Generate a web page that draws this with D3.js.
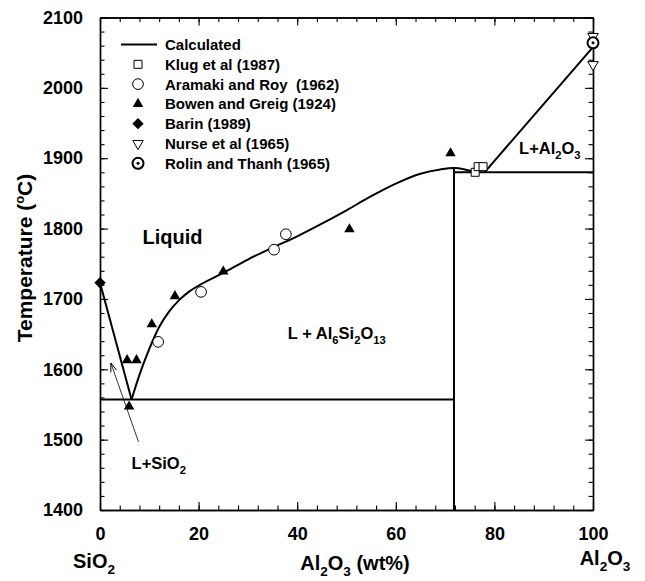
<!DOCTYPE html>
<html>
<head>
<meta charset="utf-8">
<script src="https://cdn.jsdelivr.net/npm/d3@7"></script>
<style>
  body { margin: 0; background: #fff; }
  svg { display: block; font-family: "Liberation Sans", Arial, sans-serif; font-weight: bold; }
  text { white-space: pre; }
</style>
</head>
<body>
<svg></svg>
<script>
// SiO2 - Al2O3 phase diagram
const width = 645;
const height = 581;

// calculated lines, [wt% Al2O3, temperature]
const silicaLiquidus = [[0, 1723], [6.4, 1557]];
const mulliteLiquidus = [
  [6.4, 1557], [8, 1592], [10, 1629], [12, 1660], [14, 1682], [16, 1698],
  [18, 1710], [20, 1719], [25, 1737], [30, 1756], [35, 1773], [40, 1789],
  [45, 1807], [50, 1826], [55, 1846], [60, 1864], [65, 1878], [69, 1884],
  [71.8, 1886], [74, 1884], [76, 1880]
];
const aluminaLiquidus = [[78, 1880], [100, 2058]];
const eutecticLine = [[0, 1557], [71.8, 1557]];
const peritecticLine = [[71.8, 1880], [100, 1880]];
const mulliteLine = [[71.8, 1400], [71.8, 1886]];

// experimental points
const klug = [[76.1, 1880], [76.7, 1888], [77.7, 1888]];
const aramaki = [[11.8, 1639], [20.5, 1710], [35.3, 1770], [37.7, 1792]];
const bowen = [[5.5, 1613], [7.4, 1613], [5.9, 1547], [10.5, 1664], [15.2, 1704], [25, 1739], [50.6, 1799], [71.1, 1907]];
const barin = [[0, 1723]];
const nurse = [[100, 2073], [100, 2033]];
const rolin = [[100, 2064]];

const xTicks = [0, 20, 40, 60, 80, 100];
const yTicks = [1400, 1500, 1600, 1700, 1800, 1900, 2000, 2100];
const legendNames = ["Calculated", "Klug et al (1987)", "Aramaki and Roy  (1962)", "Bowen and Greig (1924)",
  "Barin (1989)", "Nurse et al (1965)", "Rolin and Thanh (1965)"];

const svg = d3.select("svg")
  .attr("width", width)
  .attr("height", height)
  .attr("viewBox", `0 0 ${width} ${height}`);

const x = d3.scaleLinear().domain([0, 100]).range([100, 593]);
const y = d3.scaleLinear().domain([1400, 2100]).range([510, 17.5]);

// frame + ticks (all pointing inward)
function addAxis(axisFn, scale, vals, len, tx, ty, labels) {
  const g = svg.append("g")
    .attr("transform", `translate(${tx},${ty})`)
    .call(axisFn(scale).tickValues(vals).tickSizeInner(-len).tickSizeOuter(0)
      .tickPadding(len + 9).tickFormat(labels ? d3.format("d") : ""));
  g.select(".domain").attr("stroke-width", 1.4);
  g.selectAll(".tick line").attr("stroke-width", 1.1);
  g.selectAll("text").attr("font-size", 18).attr("font-weight", "bold")
    .attr("font-family", "Liberation Sans, Arial, sans-serif").attr("fill", "#000");
  return g;
}
const xMinor = d3.range(0, 101, 4);
const yMinor = d3.range(1400, 2101, 20);
addAxis(d3.axisBottom, x, xMinor, 4.5, 0, 510, false);
addAxis(d3.axisBottom, x, xTicks, 8, 0, 510, true);
addAxis(d3.axisTop, x, xMinor, 4.5, 0, 17.5, false);
addAxis(d3.axisTop, x, xTicks, 8, 0, 17.5, false);
addAxis(d3.axisLeft, y, yMinor, 4.5, 100, 0, false);
addAxis(d3.axisLeft, y, yTicks, 8, 100, 0, true);
addAxis(d3.axisRight, y, yMinor, 4.5, 593, 0, false);
addAxis(d3.axisRight, y, yTicks, 8, 593, 0, false);

// calculated lines
const line = d3.line().x(d => x(d[0])).y(d => y(d[1]));
const curve = d3.line().x(d => x(d[0])).y(d => y(d[1])).curve(d3.curveMonotoneX);
const lines = svg.append("g").attr("fill", "none").attr("stroke", "#000").attr("stroke-width", 2);
[silicaLiquidus, aluminaLiquidus, eutecticLine, peritecticLine, mulliteLine].forEach(d => {
  lines.append("path").attr("d", line(d));
});
lines.append("path").attr("d", curve(mulliteLiquidus));

// marker drawing
const sym = (type, size) => d3.symbol().type(type).size(size)();
const markers = {
  klug: g => g.append("path").attr("d", sym(d3.symbolSquare, 64)).attr("fill", "#fff").attr("stroke", "#000").attr("stroke-width", 1),
  aramaki: g => g.append("path").attr("d", sym(d3.symbolCircle, 90)).attr("fill", "#fff").attr("stroke", "#000").attr("stroke-width", 1),
  bowen: g => g.append("path").attr("d", sym(d3.symbolTriangle, 48)).attr("fill", "#000"),
  barin: g => g.append("path").attr("d", sym(d3.symbolSquare, 64)).attr("transform", "rotate(45)").attr("fill", "#000"),
  nurse: g => g.append("path").attr("d", sym(d3.symbolTriangle, 48)).attr("transform", "rotate(180)").attr("fill", "#fff").attr("stroke", "#000").attr("stroke-width", 1),
  rolin: g => {
    g.append("circle").attr("r", 5.5).attr("fill", "#fff").attr("stroke", "#000").attr("stroke-width", 2);
    g.append("circle").attr("r", 1.5).attr("fill", "#000");
  }
};
const series = [["nurse", nurse], ["rolin", rolin], ["aramaki", aramaki], ["bowen", bowen], ["barin", barin], ["klug", klug]];
series.forEach(([key, data]) => {
  svg.append("g").selectAll("g").data(data).join("g")
    .attr("transform", d => `translate(${x(d[0])},${y(d[1])})`)
    .each(function () { markers[key](d3.select(this)); });
});

// legend
const legend = svg.append("g");
const legendKeys = [null, "klug", "aramaki", "bowen", "barin", "nurse", "rolin"];
legendNames.forEach((name, i) => {
  const ly = 44.5 + i * 19.8;
  const row = legend.append("g").attr("transform", `translate(0,${ly})`);
  if (legendKeys[i] === null) {
    row.append("line").attr("x1", 121).attr("x2", 157).attr("stroke", "#000").attr("stroke-width", 2);
  } else {
    const g = row.append("g").attr("transform", "translate(138,0)");
    markers[legendKeys[i]](g);
  }
  row.append("text").attr("x", 165).attr("dy", "0.36em").attr("font-size", 15).text(name);
});

// label helper with subscripts: parts = [[text, isSub], ...]
function label(px, py, parts, size, anchor) {
  const t = svg.append("text").attr("x", px).attr("y", py).attr("font-size", size)
    .attr("text-anchor", anchor || "start");
  parts.forEach(([s, sub], i) => {
    const ts = t.append("tspan").text(s);
    if (sub) ts.attr("dy", size * 0.3).attr("font-size", size * 0.68);
    else if (i > 0 && parts[i - 1][1]) ts.attr("dy", -size * 0.3);
  });
  return t;
}

label(x(14.7), y(1788) + 7, [["Liquid", false]], 20, "middle");
label(x(38.1), y(1651) + 6, [["L + Al", false], ["6", true], ["Si", false], ["2", true], ["O", false], ["13", true]], 16.5);
label(x(85), y(1915) + 6, [["L+Al", false], ["2", true], ["O", false], ["3", true]], 16.5);
label(x(6.4), y(1467) + 6, [["L+SiO", false], ["2", true]], 16.5);

// arrow pointing to the SiO2 field
svg.append("defs").append("marker").attr("id", "arr").attr("viewBox", "0 0 10 10")
  .attr("refX", 10).attr("refY", 5).attr("markerWidth", 9).attr("markerHeight", 9)
  .attr("orient", "auto").attr("markerUnits", "userSpaceOnUse")
  .append("path").attr("d", "M0,1.5L10,5L0,8.5").attr("fill", "none").attr("stroke", "#000").attr("stroke-width", 1);
svg.append("line").attr("x1", x(7.8)).attr("y1", y(1497)).attr("x2", x(2.2)).attr("y2", y(1609))
  .attr("stroke", "#000").attr("stroke-width", 0.8).attr("marker-end", "url(#arr)");

// axis titles
label(94, 568, [["SiO", false], ["2", true]], 20, "middle");
label(605, 565, [["Al", false], ["2", true], ["O", false], ["3", true]], 20, "middle");
label(355, 570, [["Al", false], ["2", true], ["O", false], ["3", true], [" (wt%)", false]], 20, "middle");

const yt = svg.append("text").attr("transform", "translate(32,258) rotate(-90)")
  .attr("text-anchor", "middle").attr("font-size", 21);
yt.append("tspan").text("Temperature (");
yt.append("tspan").attr("dy", -8).attr("font-size", 13).text("o");
yt.append("tspan").attr("dy", 8).text("C)");
</script>
</body>
</html>
